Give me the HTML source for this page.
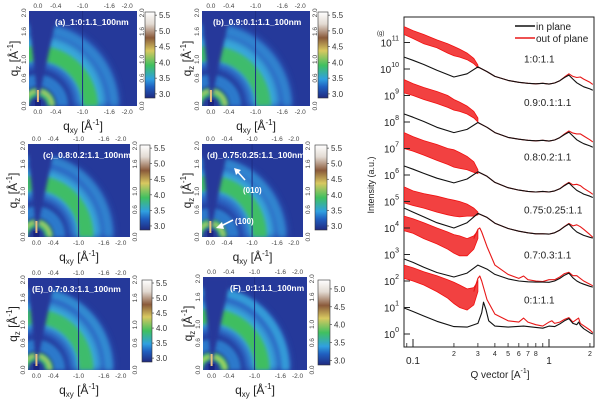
<!DOCTYPE html>
<html><head><meta charset="utf-8">
<style>
html,body{margin:0;padding:0;background:#fff;width:600px;height:404px;overflow:hidden;position:relative;}
svg{display:block;position:absolute;left:0;top:0;width:600px;height:404px;overflow:hidden;font-family:"Liberation Sans",sans-serif;}
</style></head>
<body>
<svg id="fig" width="600" height="404" viewBox="0 0 600 404">
<defs>
<linearGradient id="cbgrad" x1="0" y1="0" x2="0" y2="1">
<stop offset="0" stop-color="#ffffff"/><stop offset="0.14" stop-color="#e2dad2"/>
<stop offset="0.3" stop-color="#8a5a3a"/><stop offset="0.45" stop-color="#d8c860"/>
<stop offset="0.62" stop-color="#40c060"/><stop offset="0.78" stop-color="#30a0e0"/>
<stop offset="0.87" stop-color="#2060c0"/><stop offset="1" stop-color="#202a80"/>
</linearGradient>
<filter id="b1" x="-50%" y="-50%" width="200%" height="200%"><feGaussianBlur stdDeviation="3.5"/></filter>
<filter id="b2" x="-50%" y="-50%" width="200%" height="200%"><feGaussianBlur stdDeviation="1.8"/></filter>
</defs>
</svg>
<script>
// ---------- log chart data ----------
const qGrid = [0.086,0.1,0.12,0.15,0.2,0.25,0.3,0.35,0.4,0.5,0.6,0.7,0.8,0.9,1.0,1.1,1.2,1.3,1.4,1.5,1.6,1.7,1.8,2.0,2.1];
const black1 = [10.45,10.33,10.17,9.95,9.7,9.82,10.08,9.9,9.72,9.57,9.5,9.46,9.44,9.46,9.43,9.47,9.56,9.68,9.77,9.62,9.48,9.4,9.33,9.25,9.2];
const black2 = [8.30,8.18,8.02,7.80,7.6,7.72,7.98,7.8,7.6,7.42,7.35,7.31,7.29,7.31,7.28,7.32,7.41,7.53,7.62,7.47,7.33,7.25,7.18,7.10,7.05];
const black3 = [6.34,6.22,6.06,5.88,5.70,5.85,6.12,5.95,5.72,5.52,5.43,5.38,5.36,5.38,5.36,5.40,5.48,5.6,5.7,5.55,5.42,5.35,5.28,5.2,5.15];
const black4 = [4.75,4.6,4.42,4.2,4.0,4.2,4.55,4.4,4.18,3.98,3.88,3.82,3.78,3.78,3.77,3.82,3.92,4.05,4.15,3.98,3.85,3.78,3.72,3.65,3.62];
const black5 = [2.83,2.7,2.52,2.32,2.15,2.3,2.6,2.45,2.25,2.08,2.0,1.97,1.96,1.96,1.95,2.0,2.1,2.22,2.3,2.12,2.0,1.93,1.88,1.8,1.77];
const qBlack6 = [0.086,0.1,0.12,0.15,0.2,0.25,0.3,0.32,0.33,0.345,0.36,0.4,0.5,0.65,0.8,0.9,1.0,1.1,1.2,1.3,1.4,1.5,1.6,1.65,1.7,1.8,2.0,2.1];
const black6 = [0.98,0.85,0.68,0.48,0.28,0.26,0.4,0.8,1.2,0.9,0.5,0.3,0.26,0.3,0.25,0.22,0.3,0.28,0.38,0.5,0.58,0.4,0.35,0.45,0.33,0.2,0.05,0.0];
const qRedHi = [0.3,0.35,0.4,0.5,0.6,0.7,0.8,0.9,1.0,1.1,1.2,1.3,1.4,1.5,1.6,1.7,1.8,2.0,2.1];
const red1 = [10.08,9.9,9.72,9.57,9.5,9.46,9.44,9.46,9.43,9.47,9.56,9.7,9.82,9.72,9.68,9.7,9.62,9.5,9.42];
const red2 = [7.98,7.8,7.6,7.42,7.35,7.31,7.29,7.31,7.28,7.32,7.41,7.55,7.66,7.58,7.55,7.55,7.47,7.33,7.25];
const red3 = [6.12,5.95,5.72,5.52,5.43,5.38,5.36,5.38,5.36,5.40,5.48,5.62,5.72,5.63,5.65,5.6,5.5,5.35,5.27];
const red4 = [4.55,4.4,4.18,3.98,3.88,3.82,3.78,3.78,3.77,3.82,3.92,4.06,4.17,4.08,4.12,4.05,3.95,3.75,3.65];
const qRed5 = [0.28,0.3,0.31,0.32,0.35,0.4,0.5,0.6,0.65,0.7,0.8,0.9,1.0,1.1,1.2,1.3,1.4,1.5,1.6,1.7,1.8,2.0,2.1];
const red5 = [3.6,3.95,4.0,3.85,3.3,2.6,2.25,2.1,2.19,2.05,2.0,1.98,2.05,2.05,2.15,2.28,2.33,2.2,2.2,2.1,2.0,1.88,1.82];
const qRed6 = [0.28,0.3,0.31,0.32,0.35,0.4,0.5,0.6,0.65,0.7,0.8,0.9,1.0,1.05,1.1,1.2,1.3,1.4,1.5,1.65,1.7,2.0,2.1];
const red6 = [1.6,2.1,2.19,2.0,1.3,0.75,0.5,0.45,0.6,0.45,0.35,0.3,0.45,0.5,0.4,0.45,0.55,0.62,0.45,0.6,0.4,0.15,0.05];
const qNoise = [0.086,0.1,0.12,0.15,0.18,0.2,0.22,0.25,0.28,0.3];
const up1 = [11.6,11.45,11.3,11.1,10.95,10.85,10.75,10.6,10.4,10.15];
const lo1 = [11.3,11.15,10.95,10.8,10.6,10.5,10.45,10.35,10.2,10.05];
const up2 = [9.6,9.45,9.3,9.15,9.0,8.85,8.75,8.6,8.4,8.15];
const lo2 = [9.1,9.0,8.85,8.7,8.55,8.45,8.4,8.3,8.15,8.0];
const up3 = [7.6,7.45,7.3,7.15,7.0,6.95,6.85,6.7,6.5,6.2];
const lo3 = [7.0,6.9,6.75,6.55,6.4,6.3,6.25,6.2,6.1,6.05];
const up4 = [5.55,5.4,5.3,5.2,5.1,5.05,5.0,4.9,4.75,4.6];
const lo4 = [4.95,4.85,4.75,4.6,4.5,4.45,4.42,4.45,4.45,4.5];
const up5 = [4.45,4.35,4.2,4.0,3.85,3.75,3.7,3.6,3.7,3.9];
const lo5 = [3.9,3.8,3.6,3.4,3.2,3.05,2.95,2.95,3.2,3.6];
const up6 = [2.6,2.5,2.35,2.2,2.05,1.95,1.85,1.7,1.75,2.0];
const lo6 = [2.1,2.0,1.85,1.6,1.35,1.15,1.0,0.9,1.1,1.6];
const sampleLabels = ["1:0:1.1","0.9:0.1:1.1","0.8:0.2:1.1","0.75:0.25:1.1","0.7:0.3:1.1","0:1:1.1"];
const labelLevels = [10.4,8.75,6.7,4.7,3.0,1.3];
const decades = [0,1,2,3,4,5,6,7,8,9,10,11];
const minorQ = [0.2,0.3,0.4,0.5,0.6,0.7,0.8,0.9,2];
const minorLabels = ["2","3","4","5","6","7","8"];

// ---------- heatmap data ----------
const panelTitles = ["(a)_1:0:1.1_100nm","(b)_0.9:0.1:1.1_100nm","(c)_0.8:0.2:1.1_100nm","(d)_0.75:0.25:1.1_100nm","(E)_0.7:0.3:1.1_100nm","(F)_0:1:1.1_100nm"];
const qxyTicks = [0.0,-0.4,-1.0,-1.6,-2.0];
const qzTicks = [0.0,0.6,1.0,1.6,2.0];
const cbTicks = [5.5,5.0,4.5,4.0,3.5,3.0];
const cbTicksF = [5.0,4.5,4.0,3.5,3.0];
const ringRadii = [1.3,1.22,1.18,1.72,0.55,0.3];
const greenStrength = [0.95,0.85,0.9,0.9,0.85,0.95];
const outerStrength = [0.5,0.5,0.5,0.55,0.65,0.9];

const NS="http://www.w3.org/2000/svg";
const svg=document.getElementById('fig');
function mk(tag,attrs,parent,text){const e=document.createElementNS(NS,tag);for(const k in attrs)e.setAttribute(k,attrs[k]);if(text!==undefined)e.textContent=text;(parent||svg).appendChild(e);return e;}

// ---------- heatmap panels ----------
const geo=[[29,11,137,106,145,155,12,98],[202,11,310,106,318,328,12,98],[28,144,130,237,140,150,145,230],[202,144,303,237,315,327,145,230],[28,278,130,370,142,152,280,362],[203,277,307,370,318,330,280,365]];
geo.forEach((g,i)=>{
  const [L,T,R,B,cL,cR,cT,cB]=g;
  const ux=(R-L)/2.42, uy=(B-T)/2.04, x0=L+0.2*ux, y0=B;
  const px=q=>x0+(-q)*ux, py=q=>y0-q*uy;
  const grp=mk('g',{});
  
  
  const cid='clip'+i;
  const cp=mk('clipPath',{id:cid},grp); mk('rect',{x:L,y:T,width:R-L,height:B-T},cp);
  const pg=mk('g',{'clip-path':'url(#'+cid+')'},grp);
  mk('rect',{x:L,y:T,width:R-L,height:B-T,fill:'#25399a'},pg);
  const ring=(r,w,c,op,f)=>{
    const rx=r*ux, ry=r*uy;
    const d=`M${(x0+rx).toFixed(1)},${y0} A${rx.toFixed(1)},${ry.toFixed(1)} 0 0 0 ${(x0-rx).toFixed(1)},${y0}`;
    return mk('path',{d:d,fill:'none',stroke:c,'stroke-width':w*uy,opacity:op,filter:'url(#'+f+')'},pg);
  };
  ring(ringRadii[0],1.0,'#2e6ccb',0.85,'b1');
  ring(ringRadii[1],0.55,'#3bb0dc',0.9,'b1');
  ring(ringRadii[2],0.32,'#3fc05a',greenStrength[i],'b2');
  ring(ringRadii[3],0.18,'#36a0da',outerStrength[i],'b2');
  ring(ringRadii[4],0.25,'#2f8ad8',0.8,'b2');
  ring(ringRadii[5],0.18,'#48c870',0.95,'b2');
  ring(ringRadii[5]+0.02,0.05,i===5?'#f4e050':'#e8d060',0.85,'b2');
  mk('polygon',{points:`${x0},${y0-4} ${x0-0.22*ux},${T} ${x0+0.45*ux},${T}`,fill:'#25399a',filter:'url(#b2)'},pg);
  mk('rect',{x:x0-3,y:y0-6,width:6,height:6,fill:'#1b2580'},pg);
  mk('line',{x1:x0,y1:y0-4,x2:x0,y2:y0-16,stroke:'#e8c080','stroke-width':2},pg);
  mk('line',{x1:px(-1.0),y1:T,x2:px(-1.0),y2:B,stroke:'#1e2d85','stroke-width':1},pg);
  const t=mk('text',{x:[55,213,43,207,32,230][i],y:T+14,fill:'#fff','font-size':8.5,'font-weight':'bold'},grp,panelTitles[i]);
   
  qxyTicks.forEach(v=>{
    const tt=mk('text',{x:px(v),y:T-3,'font-size':6.5,fill:'#444','text-anchor':'middle'},grp,v.toFixed(1));
     
    const tb=mk('text',{x:px(v),y:B+8,'font-size':6.5,fill:'#444','text-anchor':'middle'},grp,v.toFixed(1));
     
  });
  qzTicks.forEach(v=>{
    const tl=mk('text',{x:0,y:0,'font-size':6.5,fill:'#444','text-anchor':'middle',transform:`translate(${L-3},${py(v)}) rotate(-90)`},grp,v.toFixed(1));
     
    const tr=mk('text',{x:0,y:0,'font-size':6.5,fill:'#444','text-anchor':'middle',transform:`translate(${R+7},${py(v)}) rotate(-90)`},grp,v.toFixed(1));
     
  });
  const xl=mk('text',{x:(L+R)/2,y:B+24,'font-size':12,fill:'#222','text-anchor':'middle'},grp);
  xl.innerHTML='q<tspan font-size="8" dy="3">xy</tspan><tspan dy="-3"> [Å</tspan><tspan font-size="8" dy="-5">-1</tspan><tspan dy="5">]</tspan>';
   
  const yl=mk('text',{x:0,y:0,'font-size':12,fill:'#222','text-anchor':'middle',transform:`translate(${L-11},${(T+B)/2}) rotate(-90)`},grp);
  yl.innerHTML='q<tspan font-size="8" dy="3">z</tspan><tspan dy="-3"> [Å</tspan><tspan font-size="8" dy="-5">-1</tspan><tspan dy="5">]</tspan>';
   
  const cb=mk('rect',{x:cL,y:cT,width:cR-cL,height:cB-cT,fill:'url(#cbgrad)',stroke:'#333','stroke-width':0.6},grp);
   
  const tks=i===5?cbTicksF:cbTicks, vmax=i===5?5.25:5.6, vmin=2.87;
  tks.forEach(v=>{
    const yy=cT+(vmax-v)/(vmax-vmin)*(cB-cT);
    mk('line',{x1:cR,x2:cR+2,y1:yy,y2:yy,stroke:'#333','stroke-width':0.6},grp);
    const ct=mk('text',{x:cR+4,y:yy+3,'font-size':8,fill:'#333'},grp,v.toFixed(1));
     
  });
});
mk('line',{x1:245,y1:180,x2:237,y2:171,stroke:'#fff','stroke-width':1.6});
mk('polygon',{points:'234,168 241,170 236,175',fill:'#fff'});
const a1=mk('text',{x:243,y:193,'font-size':8,'font-weight':'bold',fill:'#fff'},svg,'(010)');
 
mk('line',{x1:233,y1:220,x2:221,y2:226,stroke:'#fff','stroke-width':1.6});
mk('polygon',{points:'216,228 222,222 224,229',fill:'#fff'});
const a2=mk('text',{x:235,y:224,'font-size':8,'font-weight':'bold',fill:'#fff'},svg,'(100)');
 

// ---------- log-log chart ----------
const xQ=q=>413+136*Math.log10(q/0.1);
const yI=v=>334-26.5*v;
const PL=404,PR=594,PT=17,PB=347;
const frame=mk('rect',{x:PL,y:PT,width:PR-PL,height:PB-PT,fill:'none',stroke:'#222','stroke-width':1});
 
const cg=mk('g',{});
 
const cpp=mk('clipPath',{id:'cpl'},cg); mk('rect',{x:PL,y:PT,width:PR-PL,height:PB-PT},cpp);
const plotG=mk('g',{'clip-path':'url(#cpl)'},cg);
function line(qs,vs,color,name){
  const d=qs.map((q,k)=>(k?'L':'M')+xQ(q).toFixed(1)+','+yI(vs[k]).toFixed(1)).join(' ');
  const p=mk('path',{d:d,fill:'none',stroke:color,'stroke-width':1.1,'stroke-linejoin':'round'},plotG);
   
}
function band(up,lo,name){
  let d=qNoise.map((q,k)=>(k?'L':'M')+xQ(q).toFixed(1)+','+yI(up[k]).toFixed(1)).join(' ');
  for(let k=qNoise.length-1;k>=0;k--)d+=' L'+xQ(qNoise[k]).toFixed(1)+','+yI(lo[k]).toFixed(1);
  const p=mk('path',{d:d+'Z',fill:'#f02020','fill-opacity':0.85,stroke:'#f01010','stroke-width':0.8},plotG);
   
}
const blacks=[black1,black2,black3,black4,black5];
const reds=[red1,red2,red3,red4];
const ups=[up1,up2,up3,up4,up5,up6], los=[lo1,lo2,lo3,lo4,lo5,lo6];
ups.forEach((u,k)=>band(u,los[k],'out-of-plane-noise-'+(k+1)));
reds.forEach((r,k)=>line(qRedHi,r,'#e81818','out-of-plane-'+(k+1)));
line(qRed5,red5,'#e81818','out-of-plane-5');
line(qRed6,red6,'#e81818','out-of-plane-6');
blacks.forEach((b,k)=>line(qGrid,b,'#111','in-plane-'+(k+1)));
line(qBlack6,black6,'#111','in-plane-6');
sampleLabels.forEach((s,k)=>{
  const t=mk('text',{x:524,y:yI(labelLevels[k])+4,'font-size':10,fill:'#222'},svg,s);
   
});
decades.forEach(d=>{
  const y=yI(d);
  mk('line',{x1:PL,x2:PL+6,y1:y,y2:y,stroke:'#222','stroke-width':1});
  const t=mk('text',{x:PL-5,y:y+4,'font-size':10,fill:'#222','text-anchor':'end'},svg);
  t.innerHTML='10<tspan font-size="7" dy="-6">'+d+'</tspan>';
   
});
[0.1,1].forEach(q=>mk('line',{x1:xQ(q),x2:xQ(q),y1:PB,y2:PB-8,stroke:'#222','stroke-width':1}));
minorQ.forEach(q=>mk('line',{x1:xQ(q),x2:xQ(q),y1:PB,y2:PB-4,stroke:'#222','stroke-width':0.8}));
[0.09].forEach(q=>mk('line',{x1:xQ(q),x2:xQ(q),y1:PB,y2:PB-4,stroke:'#222','stroke-width':0.8}));
minorLabels.forEach((s,k)=>{
  const t=mk('text',{x:xQ(minorQ[k]),y:PB+9,'font-size':7,fill:'#222','text-anchor':'middle'},svg,s);
   
});
[['0.1',0.1],['1',1],['2',2]].forEach(([s,q])=>{
  const t=mk('text',{x:xQ(q),y:q===2?PB+9:PB+17,'font-size':q===2?7:10,fill:'#222','text-anchor':'middle'},svg,s);
   
});
const xt=mk('text',{x:500,y:378,'font-size':10,fill:'#222','text-anchor':'middle'},svg);
xt.innerHTML='Q vector [A<tspan font-size="7" dy="-5">-1</tspan><tspan dy="5">]</tspan>';
 
const yt=mk('text',{x:0,y:0,'font-size':9,fill:'#222','text-anchor':'middle',transform:'translate(374,185) rotate(-90)'},svg,'Intensity (a.u.)');
 
const gl=mk('text',{x:377,y:35,'font-size':6,fill:'#222'},svg,'(g)');
 
const lg=mk('g',{});
 
mk('rect',{x:512,y:18,width:81,height:25,fill:'#fff'},lg);
mk('line',{x1:515,x2:535,y1:26,y2:26,stroke:'#111','stroke-width':1.5},lg);
const l1=mk('text',{x:536,y:30,'font-size':10,fill:'#222'},lg,'in plane');
 
mk('line',{x1:515,x2:535,y1:38,y2:38,stroke:'#e81818','stroke-width':1.5},lg);
const l2=mk('text',{x:536,y:42,'font-size':10,fill:'#222'},lg,'out of plane');
 
</script>
</body></html>
